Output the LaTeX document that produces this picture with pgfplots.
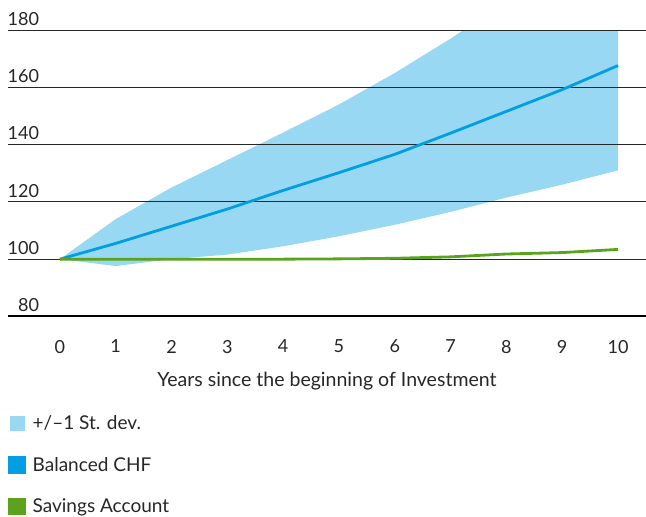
\documentclass[border=0pt]{standalone}
\usepackage{fontspec}
\setmainfont{Lato}
\usepackage{pgfplots}
\pgfplotsset{compat=1.18}
\usepgfplotslibrary{fillbetween}
\definecolor{band}{HTML}{99D8F2}
\definecolor{bal}{HTML}{009FE3}
\definecolor{sav}{HTML}{5BA31C}
\begin{document}
\begin{tikzpicture}
\begin{axis}[
  scale only axis, width=637pt, height=286pt,
  xmin=-0.93, xmax=10.5, ymin=80, ymax=180,
  axis line style={draw=none},
  major tick length=0pt,
  xtick={0,1,...,10}, ytick={80,100,...,180},
  /pgf/number format/assume math mode=true,
  tick label style={font=\fontsize{18}{20}\selectfont, color=black!85},
  yticklabel style={anchor=south east, xshift=34.5pt, yshift=1pt},
  xticklabel style={yshift=-20pt},
  xlabel={Years since the beginning of Investment},
  xlabel style={font=\fontsize{19.5}{22}\selectfont, color=black!85, yshift=-12pt},
  legend style={at={(rel axis cs:0,0)}, anchor=north west, yshift=-97pt, xshift=0pt,
    draw=none, fill=none, font=\fontsize{19}{21}\selectfont, text=black!85,
    row sep=22pt, inner sep=0pt, nodes={inner sep=2pt}},
  legend cell align=left,
  clip=true,
]
\addplot[name path=up, draw=none, forget plot] coordinates {
(0,100) (1,114) (2,125) (3,134.6) (4,144.2) (5,154) (6,165) (7,177) (8,190) (9,203) (10,216)};
\addplot[name path=lo, draw=none, forget plot] coordinates {
(0,100) (1,97.6) (2,100) (3,101.6) (4,104.5) (5,108) (6,112) (7,116.5) (8,121.5) (9,126) (10,131)};
\addplot[fill=band, draw=none, legend image code/.code={\fill[band] (0pt,-7.5pt) rectangle (15pt,7.5pt); \path[draw=none,fill=none] (15pt,0) -- (21pt,0);}] fill between[of=up and lo];
\addlegendentry{+/\textendash1 St. dev.}
\draw[black!85, line width=1.1pt] (axis cs:-0.93,180) -- (axis cs:10.5,180);
\draw[black!85, line width=1.1pt] (axis cs:-0.93,160) -- (axis cs:10.5,160);
\draw[black!85, line width=1.1pt] (axis cs:-0.93,140) -- (axis cs:10.5,140);
\draw[black!85, line width=1.1pt] (axis cs:-0.93,120) -- (axis cs:10.5,120);
\draw[black!85, line width=1.1pt] (axis cs:-0.93,100) -- (axis cs:10.5,100);
\draw[black, line width=2.6pt] (axis cs:-0.93,80) -- (axis cs:10.5,80);
\addplot[bal, line width=2.8pt, legend image code/.code={\fill[bal] (0pt,-7.5pt) rectangle (15pt,7.5pt); \path[draw=none,fill=none] (15pt,0) -- (21pt,0);}] coordinates {
(0,100) (1,105.5) (2,111.5) (3,117.5) (4,124) (5,130.2) (6,136.6) (7,144) (8,151.6) (9,159.2) (10,167.6)};
\addlegendentry{Balanced CHF}
\addplot[sav, line width=2.8pt, legend image code/.code={\fill[sav] (0pt,-7.5pt) rectangle (15pt,7.5pt); \path[draw=none,fill=none] (15pt,0) -- (21pt,0);}] coordinates {
(0,100) (1,100) (2,100) (3,100) (4,100) (5,100.1) (6,100.3) (7,100.8) (8,101.8) (9,102.3) (10,103.4)};
\addlegendentry{Savings Account}
\coordinate (tl) at (rel axis cs:0,1);
\end{axis}
\path (tl) ++(-8pt,30pt);
\end{tikzpicture}
\end{document}
